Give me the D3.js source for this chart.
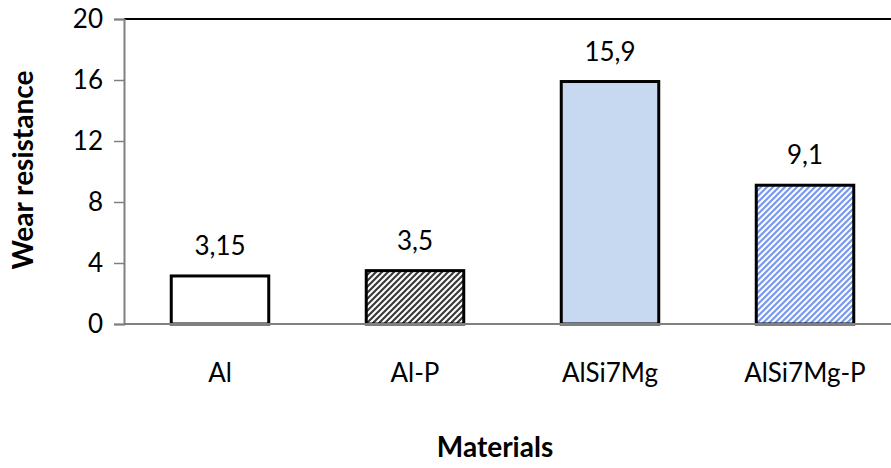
<!DOCTYPE html>
<html><head><meta charset="utf-8">
<script src="https://cdn.jsdelivr.net/npm/d3@7"></script>
<style>body{margin:0;background:#fff}svg{display:block;font-family:Lato,"Open Sans",sans-serif}</style>
</head><body><svg id="c" width="891" height="468"></svg>
<script>
const categories = ["Al","Al-P","AlSi7Mg","AlSi7Mg-P"];
const values = [3.15,3.5,15.9,9.1];
const valueLabels = ["3,15","3,5","15,9","9,1"];
const yTicks = [0,4,8,12,16,20];
const fills = ["#ffffff","url(#hatchDark)","#c6d9f1","url(#hatchBlue)"];

const svg = d3.select("#c");
const defs = svg.append("defs");
function hatch(id, color){
  const p = defs.append("pattern").attr("id",id).attr("patternUnits","userSpaceOnUse")
    .attr("width",6).attr("height",6);
  p.append("rect").attr("width",6).attr("height",6).attr("fill","#fff");
  p.append("path").attr("d","M-1,1 L1,-1 M0,6 L6,0 M5,7 L7,5")
    .attr("stroke",color).attr("stroke-width",2.2);
}
hatch("hatchDark","#3a3a3a");
hatch("hatchBlue","#7a98ee");

const x = d3.scaleBand().domain(categories).range([122.5,902.5]).paddingInner(0.5).paddingOuter(0.25);
const y = d3.scaleLinear().domain([0,20]).range([324,19]);
const FS = 26;

// top border
svg.append("line").attr("x1",124).attr("x2",891).attr("y1",y(20)).attr("y2",y(20))
  .attr("stroke","#000").attr("stroke-width",2);

// y axis
const ya = svg.append("g").attr("transform","translate(124,0)")
  .call(d3.axisLeft(y).tickValues(yTicks).tickSize(10).tickPadding(11).tickFormat(d3.format("d")));
ya.select(".domain").attr("stroke","#808080").attr("stroke-width",2);
ya.selectAll(".tick line").attr("stroke","#808080").attr("stroke-width",1.5);
ya.selectAll(".tick text").attr("font-size",FS).attr("fill","#000").attr("font-family","Lato");

// bars
svg.append("g").selectAll("rect").data(values).join("rect")
  .attr("x",(d,i)=>x(categories[i])).attr("width",x.bandwidth())
  .attr("y",d=>y(d)).attr("height",d=>y(0)-y(d))
  .attr("fill",(d,i)=>fills[i]).attr("stroke","#000").attr("stroke-width",3);

// x axis
const xa = svg.append("g").attr("transform","translate(0,324)")
  .call(d3.axisBottom(x).tickSize(0).tickPadding(40));
xa.select(".domain").remove();
svg.append("line").attr("x1",124).attr("x2",891).attr("y1",324).attr("y2",324)
  .attr("stroke","#808080").attr("stroke-width",2);
xa.selectAll(".tick text").attr("font-size",FS).attr("fill","#000").attr("font-family","Lato");

// value labels
svg.append("g").selectAll("text").data(values).join("text")
  .attr("x",(d,i)=>x(categories[i])+x.bandwidth()/2).attr("y",d=>y(d)-21)
  .attr("text-anchor","middle").attr("font-size",FS).attr("fill","#000")
  .text((d,i)=>valueLabels[i]);

// titles
svg.append("text").attr("transform","translate(33,170) rotate(-90)")
  .attr("text-anchor","middle").attr("font-size",28).attr("font-weight","bold").text("Wear resistance");
svg.append("text").attr("x",495).attr("y",457)
  .attr("text-anchor","middle").attr("font-size",28).attr("font-weight","bold").text("Materials");
</script></body></html>
